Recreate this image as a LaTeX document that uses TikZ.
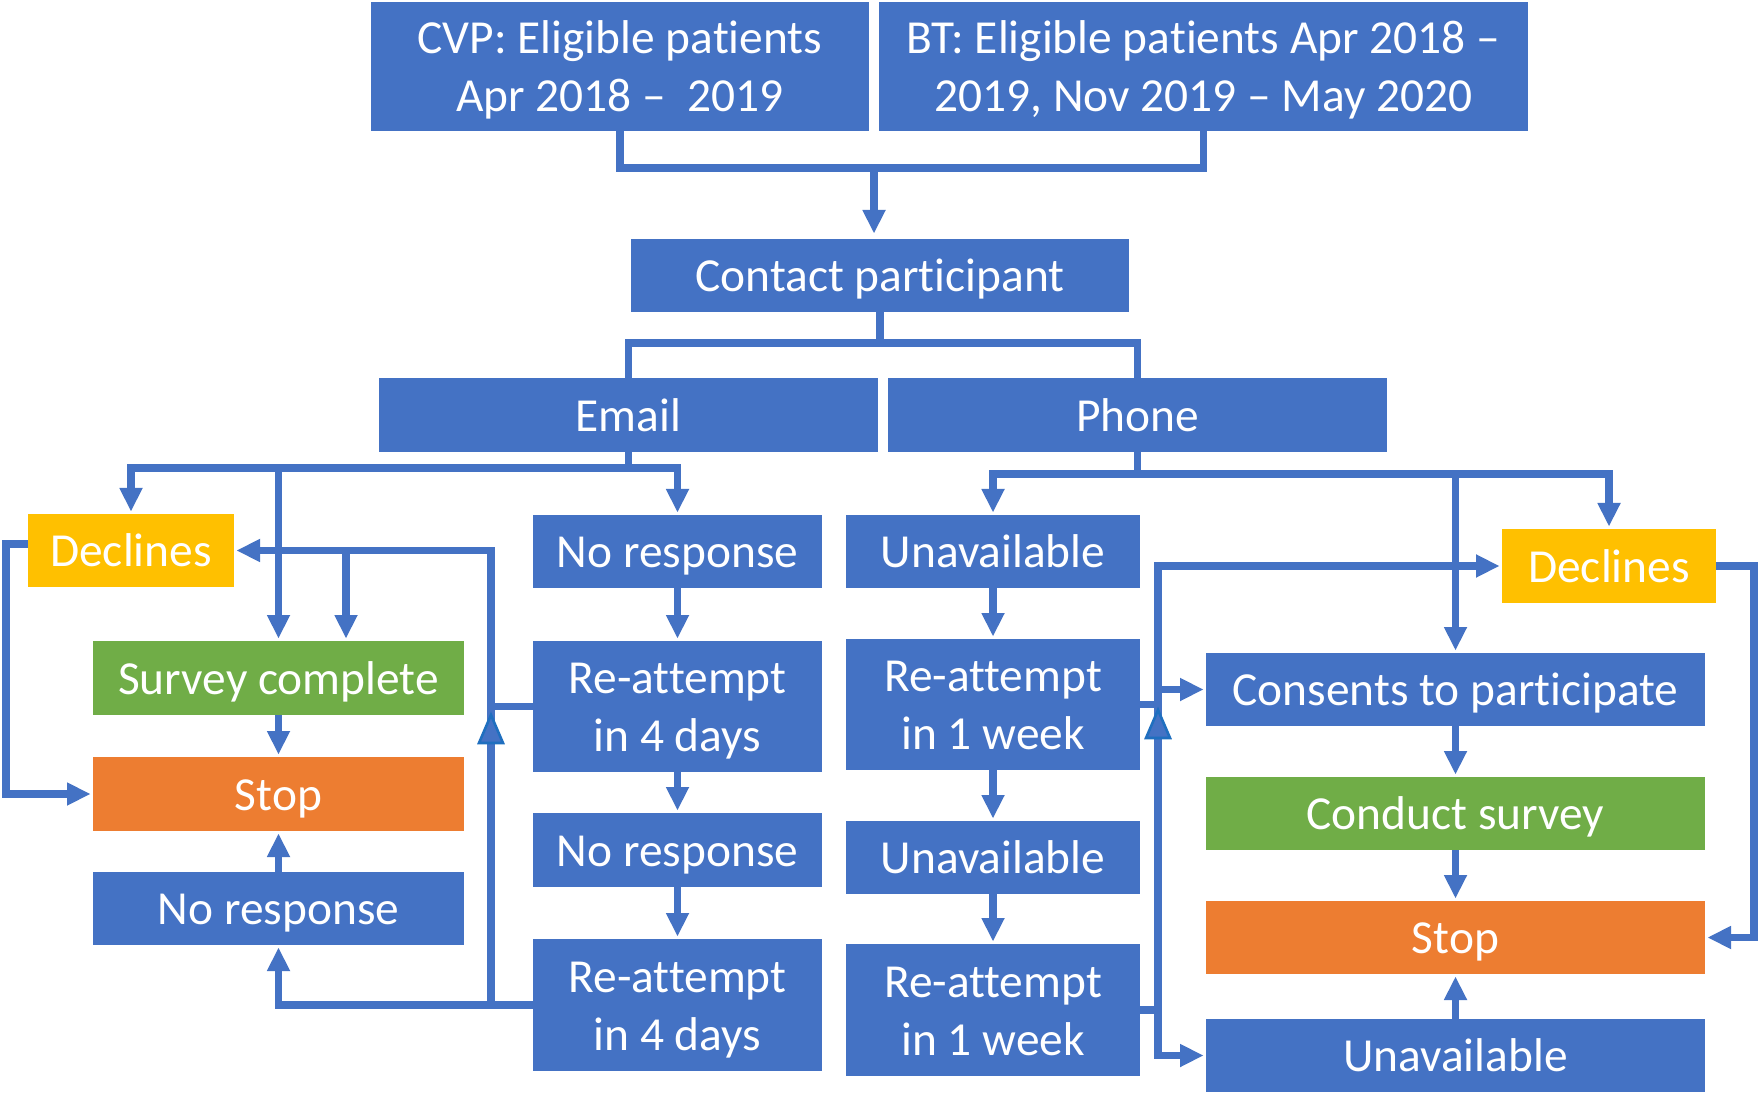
\documentclass[tikz,border=0pt]{standalone}
\usepackage{fontspec}
\setmainfont{Carlito}[Ligatures=NoCommon]
\usetikzlibrary{arrows.meta}
\definecolor{cblue}{HTML}{4472C4}
\definecolor{cyellow}{HTML}{FFC000}
\definecolor{cgreen}{HTML}{70AD47}
\definecolor{corange}{HTML}{ED7D31}
\definecolor{cdark}{HTML}{1F6FBF}
\newcommand\mystrut{\rule[-0.269em]{0pt}{1.221em}}
\newcommand\placebox[7]{\node[#6, minimum width={(#4-#2)*0.5pt}, minimum height={(#5-#3)*0.5pt}] (#1) at ({(#2+#4)/2},{(#3+#5)/2}) {\mystrut #7};}
\begin{document}
\begin{tikzpicture}[x=0.5pt,y=-0.5pt,
  bx/.style={fill=cblue, text=white, inner sep=0pt, outer sep=0pt, align=center, font=\fontsize{23.7pt}{28.94pt}\selectfont},
  ybx/.style={bx, fill=cyellow},
  gbx/.style={bx, fill=cgreen},
  obx/.style={bx, fill=corange},
  ln/.style={draw=cblue, line width=3.6pt},
  ar/.style={ln, -{Triangle[width=11.75pt,length=11.5pt,line width=0pt]}, shorten >=1.5pt},
  hollow/.style={fill=cblue, draw=cdark, line width=1.3pt, line join=miter}]
\useasboundingbox (0,0) rectangle (1759,1095);
\fill[white] (0,0) rectangle (1759,1095);
% boxes
\placebox{cvp}{371}{2}{869}{131}{bx}{CVP: Eligible patients\\\mystrut Apr 2018 – \ 2019}
\placebox{bt}{879}{2}{1528}{131}{bx}{BT: Eligible patients Apr 2018 –\\\mystrut 2019, Nov 2019 – May 2020}
\placebox{contact}{631}{239}{1129}{312}{bx}{Contact participant}
\placebox{email}{379}{378}{878}{452}{bx}{Email}
\placebox{phone}{888}{378}{1387}{452}{bx}{Phone}
\placebox{decL}{28}{514}{234}{587}{ybx}{Declines}
\placebox{nr1}{533}{515}{822}{588}{bx}{No response}
\placebox{un1}{846}{515}{1140}{588}{bx}{Unavailable}
\placebox{decR}{1502}{529}{1716}{603}{ybx}{Declines}
\placebox{survey}{93}{641}{464}{715}{gbx}{Survey complete}
\placebox{ra1}{533}{641}{822}{772}{bx}{Re-attempt\\\mystrut in 4 days}
\placebox{rw1}{846}{639}{1140}{770}{bx}{Re-attempt\\\mystrut in 1 week}
\placebox{consent}{1206}{653}{1705}{726}{bx}{Consents to participate}
\placebox{stopL}{93}{757}{464}{831}{obx}{Stop}
\placebox{nr2}{533}{813}{822}{887}{bx}{No response}
\placebox{un2}{846}{821}{1140}{894}{bx}{Unavailable}
\placebox{conduct}{1206}{777}{1705}{850}{gbx}{Conduct survey}
\placebox{noresp}{93}{872}{464}{945}{bx}{No response}
\placebox{ra2}{533}{939}{822}{1071}{bx}{Re-attempt\\\mystrut in 4 days}
\placebox{rw2}{846}{944}{1140}{1076}{bx}{Re-attempt\\\mystrut in 1 week}
\placebox{stopR}{1206}{901}{1705}{974}{obx}{Stop}
\placebox{unR}{1206}{1019}{1705}{1092}{bx}{Unavailable}
% helper coordinates
\coordinate (h1) at (0,168);
\coordinate (h2) at (0,343);
\coordinate (h3) at (0,468);
\coordinate (h4) at (0,474);
\coordinate (jc) at (874,168);
\coordinate (jl) at (491,551);
\coordinate (js) at (346,551);
\coordinate (jr) at (1158,0);
\coordinate (xl) at (6,0);
\coordinate (xr) at (1754,0);
% top
\draw[ln] (cvp.south) |- (bt.south |- h1) -- (bt.south);
\draw[ar, shorten >=3pt] (jc) -- (jc |- contact.north);
\draw[ln] (contact.south) -- (contact.south |- h2);
\draw[ln] (email.north) |- (phone.north |- h2) -- (phone.north);
% email tree
\draw[ln] (email.south) -- (email.south |- h3);
\draw[ar] (email.south |- h3) -| (decL.north);
\draw[ar] (email.south |- h3) -| (nr1.north);
\draw[ar] (survey.north |- h3) -- (survey.north);
\draw[ar] (nr1.south) -- (ra1.north);
\draw[ar] (ra1.south) -- (nr2.north);
\draw[ar] (nr2.south) -- (ra2.north);
\draw[ln] (ra1.west) -- (ra1.west -| jl);
\draw[ar] (ra2.west) -| (noresp.south);
\draw[ar] (ra2.west -| jl) |- (decL.east);
\draw[ar] (js) -- (js |- survey.north);
\draw[ar] ([yshift=3.25pt]decL.west) -| (xl |- stopL.west) -- (stopL.west);
\draw[ar] (survey.south) -- (stopL.north);
\draw[ar] (noresp.north) -- (stopL.south);
% phone tree
\draw[ln] (phone.south) -- (phone.south |- h4);
\draw[ar] (phone.south |- h4) -| (un1.north);
\draw[ar] (phone.south |- h4) -| (decR.north);
\draw[ar] (consent.north |- h4) -- (consent.north);
\draw[ar] (un1.south) -- (rw1.north);
\draw[ar] (rw1.south) -- (un2.north);
\draw[ar] (un2.south) -- (rw2.north);
\draw[ln] (rw1.east) -- (rw1.east -| jr);
\draw[ln] (rw2.east) -- (rw2.east -| jr);
\draw[ar] (rw2.east -| jr) |- (decR.west);
\draw[ar] (consent.west -| jr) -- (consent.west);
\draw[ar] (rw2.east -| jr) |- (unR.west);
\draw[ar] (decR.east) -| (xr |- stopR.east) -- (stopR.east);
\draw[ar] (consent.south) -- (conduct.north);
\draw[ar] (conduct.south) -- (stopR.north);
\draw[ar] (unR.north) -- (stopR.south);
% outlined arrowheads on the loop verticals
\filldraw[hollow] (491,715) -- (479,743) -- (503,743) -- cycle;
\filldraw[hollow] (1158,710) -- (1146,738) -- (1170,738) -- cycle;
\end{tikzpicture}
\end{document}
